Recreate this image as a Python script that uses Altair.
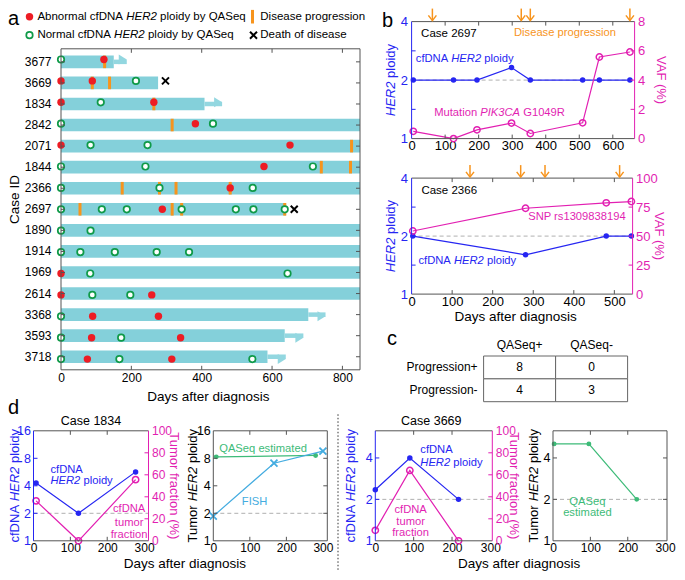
import altair as alt
import pandas as pd

FONT = "Liberation Sans"
FRAME = "#555555"
TEAL = "#84D0DA"
TEAL_ARROW = "#93D7E0"
RED = "#ED1C24"
GREEN = "#0F9A48"
ORANGE = "#F7941D"
BLUE = "#2626F2"
MAG = "#E21FB2"
QGREEN = "#3DBB78"
FISH = "#44ACE0"
DASH = "#B0B0B0"

# ---------------- data: panel a ----------------
cases = ["3677", "3669", "1834", "2842", "2071", "1844", "2366", "2697",
         "1890", "1914", "1969", "2614", "3368", "3593", "3718"]
bar_end = [150, 276, 408, 880, 880, 880, 880, 640, 880, 880, 880, 880, 703, 636, 587]
arrow_case = ["3677", "1834", "3368", "3593", "3718"]
arrow_tip = [187, 458, 752, 689, 639]
death_case = ["3669", "2697"]
death_day = [297, 663]
prog_case = ["3677", "3669", "3669", "1834", "2842", "2071", "1844", "1844",
             "2366", "2366", "2366", "2366", "2697", "2697", "2697", "2697"]
prog_day = [124, 89, 138, 264, 316, 826, 740, 823, 174, 280, 327, 481, 54, 316, 343, 636]
samp_case = ["3677", "3677",
             "3669", "3669", "3669",
             "1834", "1834", "1834",
             "2842", "2842", "2842",
             "2071", "2071", "2071", "2071",
             "1844", "1844", "1844", "1844",
             "2366", "2366", "2366", "2366",
             "2697", "2697", "2697", "2697", "2697", "2697", "2697", "2697",
             "1890", "1890",
             "1914", "1914", "1914", "1914", "1914",
             "1969", "1969", "1969",
             "2614", "2614", "2614", "2614",
             "3368", "3368", "3368",
             "3593", "3593", "3593", "3593",
             "3718", "3718", "3718", "3718", "3718"]
samp_day = [0, 122,
            0, 89, 213,
            0, 113, 264,
            0, 382, 432,
            0, 84, 246, 651,
            0, 240, 577, 716,
            0, 280, 481, 545,
            0, 116, 187, 288, 343, 497, 547, 636,
            0, 84,
            0, 55, 153, 272, 364,
            0, 83, 644,
            0, 89, 197, 258,
            0, 90, 277,
            0, 87, 171, 340,
            0, 75, 166, 315, 544]
samp_abn = [0, 1,
            1, 1, 0,
            1, 0, 1,
            0, 1, 0,
            1, 0, 0, 1,
            0, 0, 1, 0,
            0, 0, 1, 0,
            0, 0, 0, 1, 0, 0, 0, 0,
            0, 0,
            0, 0, 0, 0, 0,
            1, 0, 0,
            1, 0, 0, 1,
            0, 1, 1,
            0, 1, 0, 1,
            0, 1, 0, 1, 0]

# ---------------- data: panel b ----------------
b1_day = [5, 125, 195, 298, 354, 510, 560, 651]
b1_ploidy = [2, 2, 2, 2.32, 2, 2, 2, 2]
b1_vaf = [0.5, 0.0, 0.6, 1.06, 0.35, 1.08, 5.58, 5.92]
b1_prog = [62, 327, 354, 651]

b2_day = [3, 281, 480, 542]
b2_ploidy = [2, 1.6, 2, 2]
b2_vaf = [54.4, 74, 78.7, 79.8]
b2_prog = [144, 269, 329, 513]

# ---------------- data: panel c ----------------
c_rows = ["Progression+", "Progression-"]
c_cols = ["QASeq+", "QASeq-"]
c_counts = [8, 0, 4, 3]

# ---------------- data: panel d ----------------
d1_day = [7, 122, 277]
d1_ploidy = [4.3, 2.0, 5.68]
d1_tf = [36.3, 0, 55.6]
d2_q_day = [8, 280]
d2_q = [8.3, 8.6]
d2_fish_day = [0, 166, 300]
d2_fish = [1.86, 7.07, 9.6]
d3_day = [0, 90, 217]
d3_ploidy = [2.35, 4.0, 2.0]
d3_tf = [9.5, 64, 0]
d4_day = [3, 96, 224]
d4_q = [5.06, 5.06, 2.0]

# ---------------- helpers ----------------
WT, HT = 669, 564
UP = "ABCDEFGHIJKLMNOPQRSTUVWXYZ"
UPW = [667, 667, 722, 722, 667, 611, 778, 722, 278, 500, 667, 556, 833, 722, 778,
       667, 778, 722, 667, 611, 722, 667, 944, 667, 667, 611]
LO = "abcdefghijklmnopqrstuvwxyz"
LOW = [556, 556, 500, 556, 556, 278, 556, 556, 222, 222, 500, 222, 833, 556, 556,
       556, 556, 333, 500, 278, 556, 500, 722, 500, 500, 500]
CW_ = dict(zip(UP, UPW))
CW_.update(dict(zip(LO, LOW)))
CW_.update({" ": 278, "(": 333, ")": 333, "+": 584, "-": 333, "%": 889, ".": 278})


def tw(s, size):
    return sum(CW_.get(c, 556) for c in s) * size / 1000.0


ONE = alt.Data(values=[{"k": 0}])


def txt(s, x, y, size=11.2, color="black", italic=False, align="left",
        baseline="middle", angle=0):
    kw = dict(text=s, font=FONT, fontSize=size, color=color, align=align,
              baseline=baseline)
    if italic:
        kw["fontStyle"] = "italic"
    if angle:
        kw["angle"] = angle
    return alt.Chart(ONE).mark_text(**kw).encode(x=alt.value(x), y=alt.value(y))


def rich(parts, x, y, size, color, vertical=False, center=False):
    """Text made of normal / italic pieces; spaces are turned into offsets."""
    total = sum(tw(s, size) for s, _ in parts)
    off = -total / 2 if center else 0
    out = []
    for s, it in parts:
        core = s.lstrip(" ")
        off += tw(s[:len(s) - len(core)], size)
        if vertical:
            out.append(txt(core, x, y - off, size, color, it, angle=270))
        else:
            out.append(txt(core, x + off, y, size, color, it))
        off += tw(core, size)
    return out


def seg(x0, x1, y0, y1, color=FRAME, width=1, dash=None):
    kw = dict(color=color, strokeWidth=width)
    if dash:
        kw["strokeDash"] = dash
    return alt.Chart(ONE).mark_rule(**kw).encode(
        x=alt.value(x0), x2=alt.value(x1), y=alt.value(y0), y2=alt.value(y1))


def frame(box, lc=FRAME, rc=FRAME):
    x0, x1, y0, y1 = box
    return [seg(x0, x1, y0, y0), seg(x0, x1, y1, y1), seg(x0, x0, y0, y1, lc), seg(x1, x1, y0, y1, rc)]


def xticks(vals, scale, box, L=4, color=FRAME):
    x0, x1, y0, y1 = box
    d = pd.DataFrame({"t": vals})
    b = alt.Chart(d).mark_rule(color=color, strokeWidth=1)
    X = alt.X("t:Q", scale=scale, axis=None)
    return [b.encode(x=X, y=alt.value(y1), y2=alt.value(y1 - L)),
            b.encode(x=X, y=alt.value(y0), y2=alt.value(y0 + L))]


def yticks(vals, scale, box, side, L=4, color=FRAME, typ="Q"):
    x0, x1, y0, y1 = box
    d = pd.DataFrame({"t": vals})
    b = alt.Chart(d).mark_rule(color=color, strokeWidth=1)
    Y = alt.Y("t:" + typ, scale=scale, axis=None)
    if side == "left":
        return b.encode(y=Y, x=alt.value(x0), x2=alt.value(x0 + L))
    return b.encode(y=Y, x=alt.value(x1), x2=alt.value(x1 - L))


def xaxis(vals, box, size=12, pad=3):
    return alt.Axis(values=vals, orient="bottom", offset=box[3] - HT, title=None,
                    ticks=False, domain=False, labelFont=FONT, labelFontSize=size,
                    labelPadding=pad, labelColor="black", labelFlush=False,
                    labelOverlap=False, format="d")


def yaxis(vals, box, side, color, size=12, pad=3, fmt="d"):
    off = -box[0] if side == "left" else box[1] - WT
    return alt.Axis(values=vals, orient=side, offset=off, title=None, ticks=False,
                    domain=False, labelColor=color, labelFont=FONT, labelFontSize=size,
                    labelPadding=pad, labelOverlap=False, format=fmt)


def lin(dom, rng, clamp=False):
    if clamp:
        return alt.Scale(domain=dom, range=rng, nice=False, zero=False, clamp=True)
    return alt.Scale(domain=dom, range=rng, nice=False, zero=False)


def log2(dom, rng):
    return alt.Scale(type="log", base=2, domain=dom, range=rng, nice=False)


HEAD_R = "M-1.6,-1L0,0L-1.6,1Z"
HEAD_D = "M-1,-1.3L0,0L1,-1.3"
XPATH = "M-1,-1L1,1M-1,1L1,-1"


def down_arrows(days, scale, top):
    d = pd.DataFrame({"day": days})
    X = alt.X("day:Q", scale=scale, axis=None)
    shaft = alt.Chart(d).mark_rule(color=ORANGE, strokeWidth=1.5).encode(
        x=X, y=alt.value(top - 13), y2=alt.value(top - 1))
    head = alt.Chart(d).mark_point(shape=HEAD_D, filled=False, color=ORANGE,
                                   strokeWidth=1.5, size=64, opacity=1).encode(
        x=X, y=alt.value(top - 1))
    return [shaft, head]


def dash_at2(ys, box):
    return alt.Chart(pd.DataFrame({"v": [2]})).mark_rule(
        color=DASH, strokeDash=[4, 3], strokeWidth=1).encode(
        y=alt.Y("v:Q", scale=ys, axis=None), x=alt.value(box[0]), x2=alt.value(box[1]))


# ================= panel boxes (x0, x1, y0, y1) =================
A_BOX = (53, 352, 40.8, 361.8)
B1_BOX = (403.6, 626.6, 13.6, 130.6)
B2_BOX = (403.6, 624.6, 170.1, 286.1)
C_BOX = (475.6, 619.6, 348, 393.7)
D1_BOX = (25.5, 140.5, 422.8, 532.8)
D2_BOX = (205.3, 319.3, 422.8, 532.8)
D3_BOX = (367.3, 484.3, 422.8, 532.8)
D4_BOX = (545, 659, 422.8, 532.8)

layers = []

# ================= legend =================
layers += [
    txt("a", 0, 10.6, size=20),
    alt.Chart(ONE).mark_point(shape="circle", filled=True, color=RED, size=55,
                              opacity=1).encode(x=alt.value(21.5), y=alt.value(8.7)),
    *rich([("Abnormal cfDNA ", False), ("HER2", True), (" ploidy by QASeq", False)],
          29.4, 8.7, 11.5, "black"),
    seg(244.5, 244.5, 1.9, 15.5, ORANGE, 3),
    txt("Disease progression", 252.3, 8.7, 11.5),
    alt.Chart(ONE).mark_point(shape="circle", filled=True, fill="white", stroke=GREEN,
                              strokeWidth=1.7, size=42, opacity=1).encode(
        x=alt.value(21.5), y=alt.value(27.2)),
    *rich([("Normal cfDNA ", False), ("HER2", True), (" ploidy by QASeq", False)],
          29.4, 27.2, 11.5, "black"),
    alt.Chart(ONE).mark_point(shape=XPATH, filled=False, color="black", strokeWidth=2,
                              size=49, opacity=1).encode(x=alt.value(245.5), y=alt.value(27.2)),
    txt("Death of disease", 252.3, 27.2, 11.5),
]

# ================= panel a =================
x0, x1, y0, y1 = A_BOX
xA = lin([0, 850], [x0, x1], clamp=True)
yA = alt.Scale(domain=cases, range=[y0, y1], paddingInner=0.4, paddingOuter=0.32)
bar_df = pd.DataFrame({"case": cases, "start": [0] * len(cases), "end": bar_end})
arrow_df = pd.DataFrame({"case": arrow_case, "tip": arrow_tip,
                         "from": [bar_end[cases.index(c)] for c in arrow_case]})
prog_df = pd.DataFrame({"case": prog_case, "day": prog_day})
samp_df = pd.DataFrame({"case": samp_case, "day": samp_day, "abn": samp_abn})
death_df = pd.DataFrame({"case": death_case, "day": death_day})
YA = alt.Y("case:N", scale=yA, axis=None)
yAx = alt.Axis(orient="left", offset=-x0, title=None, ticks=False, domain=False,
               labelFont=FONT, labelFontSize=12, labelPadding=10, labelColor="black")
layers += [
    alt.Chart(bar_df).mark_bar(color=TEAL).encode(
        x=alt.X("start:Q", scale=xA, axis=xaxis([0, 200, 400, 600, 800], A_BOX, 12, 3)),
        x2=alt.X2("end"),
        y=alt.Y("case:N", scale=yA, axis=yAx)),
    alt.Chart(arrow_df).mark_rule(color=TEAL_ARROW, strokeWidth=4.5).encode(
        x=alt.X("from:Q", scale=xA, axis=None), x2=alt.X2("tip"), y=YA),
    alt.Chart(arrow_df).mark_point(shape=HEAD_R, filled=True, color=TEAL_ARROW,
                                   size=100, opacity=1, strokeWidth=0).encode(
        x=alt.X("tip:Q", scale=xA, axis=None), y=YA),
    alt.Chart(prog_df).mark_tick(color=ORANGE, thickness=3, size=12.6, opacity=1).encode(
        x=alt.X("day:Q", scale=xA, axis=None), y=YA),
    alt.Chart(samp_df).transform_filter("datum.abn == 0").mark_point(
        shape="circle", filled=True, fill="white", stroke=GREEN, strokeWidth=1.7,
        size=42, opacity=1).encode(x=alt.X("day:Q", scale=xA, axis=None), y=YA),
    alt.Chart(samp_df).transform_filter("datum.abn == 1").mark_point(
        shape="circle", filled=True, color=RED, size=55, opacity=1).encode(
        x=alt.X("day:Q", scale=xA, axis=None), y=YA),
    alt.Chart(death_df).mark_point(shape=XPATH, filled=False, color="black",
                                   strokeWidth=2, size=49, opacity=1).encode(
        x=alt.X("day:Q", scale=xA, axis=None), y=YA),
    *frame(A_BOX),
    *xticks([200, 400, 600, 800], xA, A_BOX),
    yticks(cases, yA, A_BOX, "left", typ="N"),
    yticks(cases, yA, A_BOX, "right", typ="N"),
    txt("Case ID", 6.5, 191.5, 13.5, align="center", angle=270),
    txt("Days after diagnosis", 200.3, 388.8, 13.5, align="center"),
]

# ================= panel b =================
SQ = [2 ** 0.5, 2, 2 ** 1.5]


def b_panel(box, days, ploidy, vaf, prog, xdom, xvals, vdom, vvals, texts):
    bx0, bx1, by0, by1 = box
    xs = lin(xdom, [bx0, bx1])
    yl = log2([1, 4], [by1, by0])
    ys = lin(vdom, [by1, by0])
    df = pd.DataFrame({"day": days, "ploidy": ploidy, "vaf": vaf})
    X = alt.X("day:Q", scale=xs, axis=None)
    return [
        dash_at2(yl, box),
        alt.Chart(df).mark_line(color=BLUE, strokeWidth=1.2).encode(
            x=alt.X("day:Q", scale=xs, axis=xaxis(xvals, box, 13, 1)),
            y=alt.Y("ploidy:Q", scale=yl, axis=yaxis([1, 2, 4], box, "left", BLUE, 13, 4))),
        alt.Chart(df).mark_line(color=MAG, strokeWidth=1.2).encode(
            x=X, y=alt.Y("vaf:Q", scale=ys, axis=yaxis(vvals, box, "right", MAG, 13, 3))),
        alt.Chart(df).mark_point(shape="circle", filled=True, color=BLUE,
                                 size=30, opacity=1).encode(
            x=X, y=alt.Y("ploidy:Q", scale=yl, axis=None)),
        alt.Chart(df).mark_point(shape="circle", filled=False, color=MAG,
                                 strokeWidth=1.5, size=40, opacity=1).encode(
            x=X, y=alt.Y("vaf:Q", scale=ys, axis=None)),
        *frame(box, BLUE, MAG),
        *down_arrows(prog, xs, by0),
        *xticks([v for v in xvals if v > 0], xs, box),
        yticks(SQ, yl, box, "left", color=BLUE),
        yticks(vvals[1:-1], ys, box, "right", color=MAG),
        *rich([("HER2", True), (" ploidy", False)], bx0 - 21.1, (by0 + by1) / 2, 13, BLUE,
              vertical=True, center=True),
        txt("VAF (%)", bx1 + 26.4, (by0 + by1) / 2, 13, MAG, align="center", angle=90),
        *texts,
    ]


layers += b_panel(B1_BOX, b1_day, b1_ploidy, b1_vaf, b1_prog, [0, 665],
                  [0, 100, 200, 300, 400, 500, 600], [0, 8], [0, 2, 4, 6, 8], [
                      txt("b", 374.1, 12.6, 20),
                      txt("Case 2697", 413.1, 26.2, 11.5),
                      txt("Disease progression", 506, 25.3, 11.2, ORANGE),
                      *rich([("cfDNA ", False), ("HER2", True), (" ploidy", False)],
                            407.8, 50.6, 11.2, BLUE),
                      *rich([("Mutation ", False), ("PIK3CA", True), (" G1049R", False)],
                            426.2, 105, 11.2, MAG),
                  ])
layers += b_panel(B2_BOX, b2_day, b2_ploidy, b2_vaf, b2_prog, [0, 545],
                  [0, 100, 200, 300, 400, 500], [0, 100], [0, 25, 50, 75, 100], [
                      txt("Case 2366", 413.4, 182.7, 11.5),
                      txt("SNP rs1309838194", 520.2, 209, 11.2, MAG),
                      *rich([("cfDNA ", False), ("HER2", True), (" ploidy", False)],
                            410.5, 252.7, 11.2, BLUE),
                      txt("Days after diagnosis", 507.6, 309.1, 13.5, align="center"),
                  ])

# ================= panel c =================
cx0, cx1, cy0, cy1 = C_BOX
c_df = pd.DataFrame({"row": [r for r in c_rows for _ in c_cols],
                     "col": [c for _ in c_rows for c in c_cols],
                     "n": c_counts})
xC = alt.Scale(domain=c_cols, range=[cx0, cx1], paddingInner=0, paddingOuter=0)
yC = alt.Scale(domain=c_rows, range=[cy0, cy1], paddingInner=0, paddingOuter=0)
layers += [
    alt.Chart(c_df).mark_rect(fill="white", stroke="#666666", strokeWidth=1).encode(
        x=alt.X("col:N", scale=xC, axis=alt.Axis(orient="top", offset=-cy0, title=None,
                                                 domain=False, ticks=False, labelAngle=0,
                                                 labelFont=FONT, labelFontSize=12,
                                                 labelPadding=5, labelColor="black")),
        y=alt.Y("row:N", scale=yC, axis=None)),
    alt.Chart(c_df).mark_text(font=FONT, fontSize=12, color="black").encode(
        x=alt.X("col:N", scale=xC, axis=None), y=alt.Y("row:N", scale=yC, axis=None),
        text="n:Q"),
    alt.Chart(pd.DataFrame({"row": c_rows})).mark_text(
        font=FONT, fontSize=12, color="black", align="right").encode(
        x=alt.value(cx0 - 6), y=alt.Y("row:N", scale=yC, axis=None), text="row:N"),
    txt("c", 379.1, 330.5, 20),
]

# ================= panel d =================
TFV = [0, 20, 40, 60, 80, 100]


def cf_panel(box, days, ploidy, tf, xmax, ymax, yvals, texts):
    bx0, bx1, by0, by1 = box
    xs = lin([0, xmax], [bx0, bx1])
    yl = log2([1, ymax], [by1, by0])
    yt = lin([0, 100], [by1, by0])
    df = pd.DataFrame({"day": days, "ploidy": ploidy, "tf": tf})
    X = alt.X("day:Q", scale=xs, axis=None)
    return [
        dash_at2(yl, box),
        alt.Chart(df).mark_line(color=BLUE, strokeWidth=1.2).encode(
            x=alt.X("day:Q", scale=xs, axis=xaxis([0, 100, 200, 300], box, 12, 2)),
            y=alt.Y("ploidy:Q", scale=yl, axis=yaxis(yvals, box, "left", BLUE, 12.5, 3))),
        alt.Chart(df).mark_line(color=MAG, strokeWidth=1.2).encode(
            x=X, y=alt.Y("tf:Q", scale=yt, axis=yaxis(TFV, box, "right", MAG, 12, 3))),
        alt.Chart(df).mark_point(shape="circle", filled=True, color=BLUE, size=30,
                                 opacity=1).encode(
            x=X, y=alt.Y("ploidy:Q", scale=yl, axis=None)),
        alt.Chart(df).mark_point(shape="circle", filled=False, color=MAG, strokeWidth=1.5,
                                 size=40, opacity=1).encode(
            x=X, y=alt.Y("tf:Q", scale=yt, axis=None)),
        *frame(box, BLUE, MAG),
        *xticks([100, 200], xs, box),
        yticks([v for v in yvals if 1 < v < ymax], yl, box, "left", color=BLUE),
        yticks(TFV[1:-1], yt, box, "right", color=MAG),
        *texts,
    ]


def tumor_panel(box, series, xmax, ymax, yvals, texts):
    bx0, bx1, by0, by1 = box
    xs = lin([0, xmax], [bx0, bx1])
    yl = log2([1, ymax], [by1, by0])
    out = [dash_at2(yl, box)]
    first = True
    for days, vals, color, shape in series:
        df = pd.DataFrame({"day": days, "v": vals})
        if first:
            xe = alt.X("day:Q", scale=xs, axis=xaxis([0, 100, 200, 300], box, 12, 2))
            ye = alt.Y("v:Q", scale=yl, axis=yaxis(yvals, box, "left", "black", 12.5, 3))
            first = False
        else:
            xe = alt.X("day:Q", scale=xs, axis=None)
            ye = alt.Y("v:Q", scale=yl, axis=None)
        out.append(alt.Chart(df).mark_line(color=color, strokeWidth=1.2).encode(x=xe, y=ye))
        if shape == "x":
            pt = alt.Chart(df).mark_point(shape=XPATH, filled=False, color=color,
                                          strokeWidth=1.8, size=49, opacity=1)
        else:
            pt = alt.Chart(df).mark_point(shape="circle", filled=True, color=color,
                                          size=24, opacity=1)
        out.append(pt.encode(x=alt.X("day:Q", scale=xs, axis=None),
                             y=alt.Y("v:Q", scale=yl, axis=None)))
    inner = [v for v in yvals if 1 < v < ymax]
    out += [*frame(box), *xticks([100, 200], xs, box),
            yticks(inner, yl, box, "left"), yticks(inner, yl, box, "right"), *texts]
    return out


layers += cf_panel(D1_BOX, d1_day, d1_ploidy, d1_tf, 312, 16, [1, 2, 4, 8, 16], [
    txt("d", 0, 400, 20),
    txt("Case 1834", 83, 413.1, 12.5, align="center"),
    *rich([("cfDNA ", False), ("HER2", True), (" ploidy", False)], 7, 477.8, 13, BLUE,
          vertical=True, center=True),
    txt("Tumor fraction (%)", 166, 477.8, 13, MAG, align="center", angle=90),
    txt("cfDNA", 42.5, 461.8, 11.2, BLUE),
    *rich([("HER2", True), (" ploidy", False)], 42.5, 473.3, 11.2, BLUE),
    txt("cfDNA", 121.1, 501.2, 11.2, MAG, align="center"),
    txt("tumor", 121.1, 515.1, 11.2, MAG, align="center"),
    txt("fraction", 121.1, 527.1, 11.2, MAG, align="center"),
    txt("Days after diagnosis", 176.9, 555.5, 13.5, align="center"),
])

layers += tumor_panel(D2_BOX, [(d2_q_day, d2_q, QGREEN, "o"), (d2_fish_day, d2_fish, FISH, "x")],
                      312, 16, [1, 2, 4, 8, 16], [
    *rich([("Tumor ", False), ("HER2", True), (" ploidy", False)], 184.7, 477.8, 13, "black",
          vertical=True, center=True),
    txt("QASeq estimated", 211.2, 440.6, 11.2, QGREEN),
    txt("FISH", 233.8, 494.1, 11.2, FISH),
])

layers += cf_panel(D3_BOX, d3_day, d3_ploidy, d3_tf, 305, 6.3, [1, 2, 4], [
    txt("Case 3669", 423.3, 413.1, 12.5, align="center"),
    *rich([("cfDNA ", False), ("HER2", True), (" ploidy", False)], 342.8, 477.8, 13, BLUE,
          vertical=True, center=True),
    txt("Tumor fraction (%)", 506.3, 477.8, 13, MAG, align="center", angle=90),
    txt("cfDNA", 412.3, 442.2, 11.2, BLUE),
    *rich([("HER2", True), (" ploidy", False)], 412.3, 455.2, 11.2, BLUE),
    txt("cfDNA", 402.6, 502.2, 11.2, MAG, align="center"),
    txt("tumor", 402.6, 513.5, 11.2, MAG, align="center"),
    txt("fraction", 402.6, 524.8, 11.2, MAG, align="center"),
    seg(330, 330, 406.3, 563.8, "#333333", 1, [1.5, 2]),
    txt("Days after diagnosis", 511.2, 555.5, 13.5, align="center"),
])

layers += tumor_panel(D4_BOX, [(d4_day, d4_q, QGREEN, "o")], 305, 6.3, [1, 2, 4], [
    *rich([("Tumor ", False), ("HER2", True), (" ploidy", False)], 525.9, 477.8, 13, "black",
          vertical=True, center=True),
    txt("QASeq", 579.4, 494.1, 11.2, QGREEN, align="center"),
    txt("estimated", 579.4, 505.4, 11.2, QGREEN, align="center"),
])

chart = alt.layer(*layers).resolve_scale(x="independent", y="independent").properties(
    width=WT, height=HT, padding=0, autosize=alt.AutoSizeParams(type="none")
).configure_view(strokeWidth=0).configure_axis(labelFont=FONT, titleFont=FONT, grid=False)

chart.save("out.html", embed_options={"renderer": "svg", "actions": False})
